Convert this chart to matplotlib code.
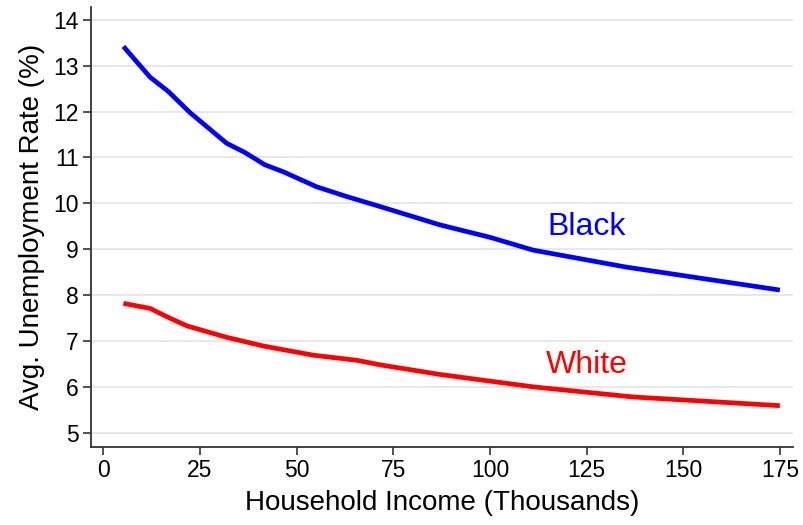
import matplotlib
matplotlib.use("Agg")
import matplotlib.pyplot as plt

plt.rcParams["font.family"] = ["Liberation Sans", "DejaVu Sans"]

income = [5.2, 12.1, 16.8, 22.4, 31.9, 36.6, 41.8, 46.5, 55.2, 62.9, 71.6, 87.1, 100, 111.2, 135.3, 175]
black = [13.42, 12.75, 12.44, 11.98, 11.31, 11.11, 10.84, 10.69, 10.36, 10.15, 9.93, 9.53, 9.26, 8.98, 8.61, 8.11]

income_w = [5.2, 12.1, 16.4, 21.6, 31.9, 41.4, 54.3, 65.5, 71.6, 87.1, 111.2, 137, 175]
white = [7.82, 7.71, 7.53, 7.33, 7.08, 6.89, 6.69, 6.58, 6.48, 6.27, 6.00, 5.78, 5.59]

xticks = [0, 25, 50, 75, 100, 125, 150, 175]
yticks = [5, 6, 7, 8, 9, 10, 11, 12, 13, 14]

fig = plt.figure(figsize=(8.04, 5.25), dpi=100)
ax = fig.add_axes([0.1128, 0.1491, 0.8735, 0.8376])

ax.plot(income, black, color="#0000ff", lw=3.4, solid_capstyle="butt")
ax.plot(income_w, white, color="#ff0000", lw=3.4, solid_capstyle="butt")

ax.text(125, 9.49, "Black", color="#0000ff", fontsize=23, ha="center", va="center")
ax.text(125, 6.48, "White", color="#ff0000", fontsize=23, ha="center", va="center")

ax.set_xlim(-3.26, 178.4)
ax.set_ylim(4.695, 14.28)
ax.set_xticks(xticks)
ax.set_yticks(yticks)
ax.grid(True, axis="y", color="#e6e6e6", lw=1.3)
ax.set_axisbelow(True)

for s in ["top", "right"]:
    ax.spines[s].set_visible(False)
for s in ["left", "bottom"]:
    ax.spines[s].set_color("#333333")
    ax.spines[s].set_linewidth(1.3)

ax.tick_params(axis="both", labelsize=16.5, color="#333333", width=1.2, length=5.5, pad=3)
ax.set_xlabel("Household Income (Thousands)", fontsize=20, labelpad=6)
ax.set_ylabel("Avg. Unemployment Rate (%)", fontsize=20, labelpad=6)

fig.savefig("out.png", dpi=100)
